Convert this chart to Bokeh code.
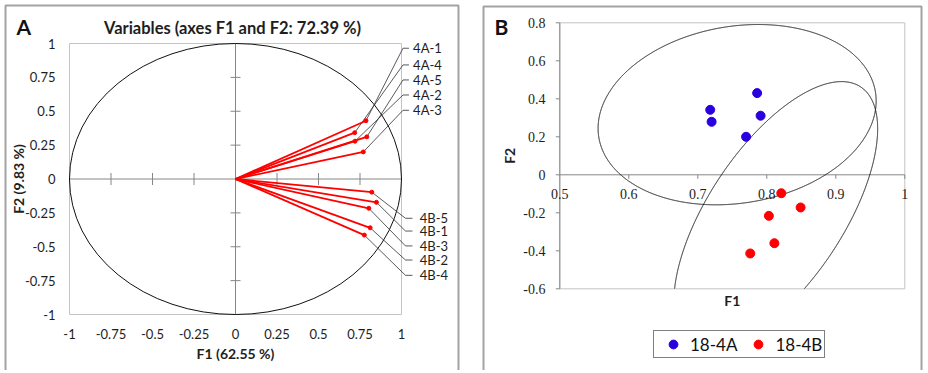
import numpy as np
from bokeh.plotting import figure
from bokeh.models import Range1d, Legend, LegendItem
from bokeh.embed import file_html
from bokeh.resources import INLINE
from bokeh.core.properties import value

# ---------------- data ----------------
var_a = ["4A-1", "4A-4", "4A-5", "4A-2", "4A-3"]
f1_a = [0.786, 0.718, 0.791, 0.720, 0.770]
f2_a = [0.430, 0.342, 0.311, 0.279, 0.200]

var_b = ["4B-5", "4B-1", "4B-3", "4B-2", "4B-4"]
f1_b = [0.821, 0.849, 0.803, 0.811, 0.776]
f2_b = [-0.097, -0.172, -0.216, -0.360, -0.414]

group_names = ["18-4A", "18-4B"]
# confidence ellipses: centre, var(F1), var(F2), cov(F1, F2)
ell_cx = [0.757, 0.813]
ell_cy = [0.3165, -0.212]
ell_sxx = [0.0406, 0.0218]
ell_syy = [0.2251, 0.4935]
ell_sxy = [0.0145, 0.067]

ticks_a = [-1, -0.75, -0.5, -0.25, 0, 0.25, 0.5, 0.75, 1]
tick_labels_a = ["-1", "-0.75", "-0.5", "-0.25", "0", "0.25", "0.5", "0.75", "1"]
ticks_bx = [0.5, 0.6, 0.7, 0.8, 0.9, 1.0]
tick_labels_bx = ["0.5", "0.6", "0.7", "0.8", "0.9", "1"]
ticks_by = [-0.6, -0.4, -0.2, 0, 0.2, 0.4, 0.6, 0.8]
tick_labels_by = ["-0.6", "-0.4", "-0.2", "0", "0.2", "0.4", "0.6", "0.8"]

title_a = "Variables (axes F1 and F2: 72.39 %)"
xlabel_a = "F1 (62.55 %)"
ylabel_a = "F2 (9.83 %)"
xlabel_b = "F1"
ylabel_b = "F2"
panel_tags = ["A", "B"]

# ---------------- layout (canvas pixels) ----------------
W, H = 924, 370
# plot-area anchors: (data, pixel) pairs; pixel y measured from the top
A_X = (-1, 69, 1, 401)
A_Y = (1, 43, -1, 314)
B_X = (0.5, 559.3, 1.0, 904.3)
B_Y = (0.8, 22.3, -0.6, 288.3)

lab_a_y = [0.965, 0.842, 0.731, 0.620, 0.507]   # label rows (data units of panel A)
lab_b_y = [-0.290, -0.384, -0.494, -0.598, -0.711]

SANS = "Lato"
SERIF = "Liberation Serif"
RED = "#ff0000"
BLUE = "#2a00e0"
AXIS = "#868686"
FRAME = "#c4c4c4"
BORDER = "#a3a3a3"
TXT = "#1e1e1e"


def make_map(d0, p0, d1, p1, total, from_top=False):
    if from_top:
        p0, p1 = total - p0, total - p1
    s = (p1 - p0) / (d1 - d0)
    start = d0 - p0 / s
    return start, start + total / s, s


ax0, ax1, asx = make_map(*A_X, W)
ay0, ay1, asy = make_map(*A_Y, H, from_top=True)
bx0, bx1, bsx = make_map(*B_X, W)
by0, by1, bsy = make_map(*B_Y, H, from_top=True)


def a_x(px): return ax0 + px / asx
def a_y(py): return ay0 + (H - py) / asy
def b_x(px): return bx0 + px / bsx
def b_y(py): return by0 + (H - py) / bsy


p = figure(width=W, height=H, x_range=Range1d(ax0, ax1), y_range=Range1d(ay0, ay1),
           output_backend="svg", toolbar_location=None, min_border=0,
           x_axis_location=None, y_axis_location=None, title=None,
           outline_line_color=None)
p.extra_x_ranges = {"bx": Range1d(bx0, bx1)}
p.extra_y_ranges = {"by": Range1d(by0, by1)}
p.grid.visible = False
B = dict(x_range_name="bx", y_range_name="by")


def txt(x, y, s, size, align="center", baseline="middle", bold=False, font=SANS,
        angle=0.0, color=TXT, **kw):
    p.text(x=x, y=y, text=s, text_font=value(font), text_font_size=size,
           text_align=align, text_baseline=baseline,
           text_font_style="bold" if bold else "normal", angle=angle,
           text_color=color, **kw)


# ---- panel borders ----
p.multi_line(xs=[[a_x(5), a_x(5), a_x(458), a_x(458)], [a_x(483), a_x(483), a_x(921), a_x(921)]],
             ys=[[a_y(H), a_y(5), a_y(5), a_y(H)], [a_y(H), a_y(6), a_y(6), a_y(H)]],
             line_color=BORDER, line_width=2)

# ================= Panel A =================
lo, hi = ticks_a[0], ticks_a[-1]
p.quad(left=[lo], right=[hi], bottom=[lo], top=[hi], fill_color=None, line_color=FRAME, line_width=1)
p.segment(x0=[lo, 0], y0=[0, lo], x1=[hi, 0], y1=[0, hi], line_color=AXIS, line_width=1)
inner = [t for t in ticks_a if t not in (lo, 0, hi)]
p.scatter(x=inner, y=[0] * len(inner), marker="dash", size=12, angle=np.pi / 2,
          line_color=AXIS, line_width=1)
p.scatter(x=[0] * len(inner), y=inner, marker="dash", size=10, line_color=AXIS, line_width=1)
p.ellipse(x=[0], y=[0], width=[2 * hi], height=[2 * hi], fill_color=None,
          line_color="#111111", line_width=1)

# tick labels
txt([a_x(55)] * len(ticks_a), ticks_a, tick_labels_a, "13px", align="right")
txt(ticks_a, [a_y(333)] * len(ticks_a), tick_labels_a, "13px")

# leader lines + labels
xs, ys = [], []
for x, y, ly in zip(f1_a, f2_a, lab_a_y):
    xs.append([x, 1.009, 1.045]); ys.append([y, ly, ly])
for x, y, ly in zip(f1_b, f2_b, lab_b_y):
    xs.append([x, 1.024, 1.066]); ys.append([y, ly, ly])
p.multi_line(xs=xs, ys=ys, line_color="#303030", line_width=0.8)
txt([1.070] * len(var_a), lab_a_y, var_a, "13px", align="left")
txt([1.110] * len(var_b), lab_b_y, var_b, "13px", align="left")

# vectors
f1_all = f1_a + f1_b
f2_all = f2_a + f2_b
p.segment(x0=[0] * len(f1_all), y0=[0] * len(f1_all), x1=f1_all, y1=f2_all,
          line_color=RED, line_width=1.8)
p.scatter(x=f1_all, y=f2_all, size=4, color=RED)

txt([a_x(232)], [a_y(27)], [title_a], "16.5px", bold=True)
txt([0], [a_y(353)], [xlabel_a], "14px", bold=True)
txt([a_x(18)], [0], [ylabel_a], "14px", bold=True, angle=np.pi / 2)
txt([a_x(16)], [a_y(25.5)], [panel_tags[0]], "21px", align="left", bold=True, color="#111111")

# ================= Panel B =================
bxl, bxh = ticks_bx[0], ticks_bx[-1]
byl, byh = ticks_by[0], ticks_by[-1]
p.quad(left=[bxl], right=[bxh], bottom=[byl], top=[byh], fill_color=None,
       line_color=FRAME, line_width=1, **B)
# axes
p.segment(x0=[bxl, bxl], y0=[byl, 0], x1=[bxl, bxh], y1=[byh, 0], line_color=AXIS, line_width=1, **B)
p.segment(x0=[b_x(555.3)] * len(ticks_by), y0=ticks_by, x1=[bxl] * len(ticks_by), y1=ticks_by,
          line_color=AXIS, line_width=1, **B)
p.segment(x0=ticks_bx[1:], y0=[0] * (len(ticks_bx) - 1), x1=ticks_bx[1:],
          y1=[-4 / bsy] * (len(ticks_bx) - 1), line_color=AXIS, line_width=1, **B)
txt([b_x(545)] * len(ticks_by), ticks_by, tick_labels_by, "14px", align="right", font=SERIF, **B)
txt(ticks_bx, [b_y(193)] * len(ticks_bx), tick_labels_bx, "14px", font=SERIF, **B)

# confidence ellipses (clipped to the plot area)
t = np.linspace(0, 2 * np.pi, 4000)
for cx, cy, sxx, syy, sxy in zip(ell_cx, ell_cy, ell_sxx, ell_syy, ell_sxy):
    l11 = np.sqrt(sxx)
    l21 = sxy / l11
    l22 = np.sqrt(syy - l21 ** 2)
    ex = cx + l11 * np.cos(t)
    ey = cy + l21 * np.cos(t) + l22 * np.sin(t)
    out = (ey < byl) | (ey > byh) | (ex < bxl) | (ex > bxh)
    ex = np.where(out, np.nan, ex)
    ey = np.where(out, np.nan, ey)
    p.line(ex, ey, line_color="#111111", line_width=1, **B)

rA = p.scatter(x=f1_a, y=f2_a, size=9, color=BLUE, **B)
rB = p.scatter(x=f1_b, y=f2_b, size=9, color=RED, **B)

txt([(bxl + bxh) / 2], [b_y(300)], [xlabel_b], "14px", bold=True, **B)
txt([b_x(509)], [(byl + byh) / 2], [ylabel_b], "14px", bold=True, angle=np.pi / 2, **B)
txt([b_x(494)], [b_y(25.5)], [panel_tags[1]], "21px", align="left", bold=True, color="#111111", **B)

legend = Legend(items=[LegendItem(label=group_names[0], renderers=[rA]),
                       LegendItem(label=group_names[1], renderers=[rB])],
                orientation="horizontal", location=(653, H - 358),
                border_line_color="black", border_line_width=1, padding=2, spacing=4,
                glyph_width=34, glyph_height=22, label_standoff=-6,
                label_text_font=SANS, label_text_font_size="17px",
                label_text_color="#111111", margin=0, background_fill_alpha=1)
p.add_layout(legend)

open("out.html", "w").write(file_html(p, INLINE))
